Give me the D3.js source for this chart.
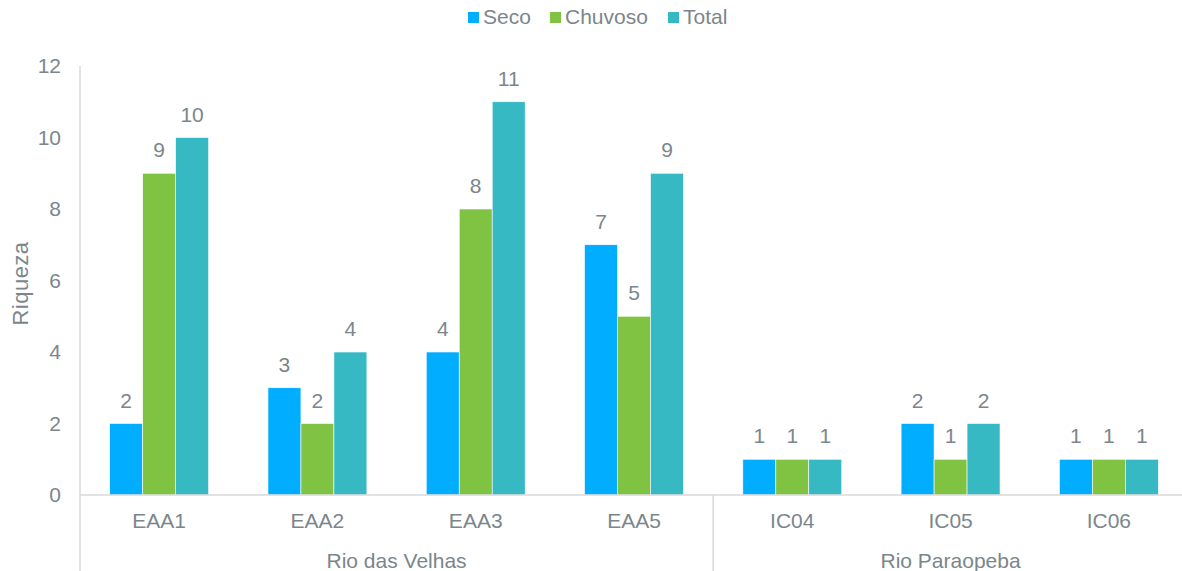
<!DOCTYPE html>
<html>
<head>
<meta charset="utf-8">
<script src="https://cdn.jsdelivr.net/npm/d3@7"></script>
<style>
  html, body { margin: 0; padding: 0; background: #fff; }
  svg text { font-family: "Liberation Sans", Arial, sans-serif; fill: #7b868c; }
</style>
</head>
<body>
<svg id="chart" width="1182" height="571"></svg>
<script>
// Sampling sites, grouped by river basin
const sites = ["EAA1", "EAA2", "EAA3", "EAA5", "IC04", "IC05", "IC06"];
const basins = ["Rio das Velhas", "Rio das Velhas", "Rio das Velhas", "Rio das Velhas",
                "Rio Paraopeba", "Rio Paraopeba", "Rio Paraopeba"];
const seriesNames = ["Seco", "Chuvoso", "Total"];
const seco    = [2, 3, 4, 7, 1, 2, 1];
const chuvoso = [9, 2, 8, 5, 1, 1, 1];
const total   = [10, 4, 11, 9, 1, 2, 1];
const yTicks  = [0, 2, 4, 6, 8, 10, 12];

const colors = { Seco: "#00adfe", Chuvoso: "#80c342", Total: "#37b9c4" };
const seriesValues = { Seco: seco, Chuvoso: chuvoso, Total: total };
const fontSize = "21px";
const textColor = "#7b868c";
const fontFamily = "'Liberation Sans', Arial, sans-serif";

const svg = d3.select("#chart");
const plotLeft = 80, plotRight = 1188, plotTop = 66, plotBottom = 495;

const x = d3.scaleBand().domain(sites).range([plotLeft, plotRight]).paddingInner(0).paddingOuter(0);
const groupWidth = x.bandwidth() * 0.625;
const inner = d3.scaleBand().domain(seriesNames).range([0, groupWidth]);
const groupOffset = (x.bandwidth() - groupWidth) / 2;
const y = d3.scaleLinear().domain([0, 12]).range([plotBottom, plotTop]);

// Y axis labels
const yAxis = d3.axisLeft(y).tickValues(yTicks).tickSize(0).tickPadding(19);
const gy = svg.append("g").attr("transform", `translate(${plotLeft},0)`).call(yAxis);
gy.select(".domain").remove();
gy.selectAll("text").style("font-size", fontSize).style("fill", textColor)
  .style("font-family", fontFamily);

// vertical axis line
svg.append("line").attr("x1", plotLeft).attr("x2", plotLeft).attr("y1", plotTop).attr("y2", 571)
  .attr("stroke", "#d9d9d9").attr("stroke-width", 1.5);

// Y axis title
svg.append("text").attr("transform", `translate(28,${(plotTop + plotBottom) / 2 + 3}) rotate(-90)`)
  .attr("text-anchor", "middle").style("font-size", "22px").style("letter-spacing", "0.5px")
  .text("Riqueza");

// Bars
const rows = [];
sites.forEach((s, i) => seriesNames.forEach(n => rows.push({ site: s, series: n, value: seriesValues[n][i] })));

svg.append("g").selectAll("rect").data(rows).join("rect")
  .attr("x", d => x(d.site) + groupOffset + inner(d.series))
  .attr("y", d => y(d.value))
  .attr("width", inner.bandwidth())
  .attr("height", d => y(0) - y(d.value))
  .attr("fill", d => colors[d.series])
  .attr("stroke", "#ffffff").attr("stroke-width", 0.6);

// Value labels
svg.append("g").selectAll("text").data(rows).join("text")
  .attr("x", d => x(d.site) + groupOffset + inner(d.series) + inner.bandwidth() / 2)
  .attr("y", d => y(d.value) - 16)
  .attr("text-anchor", "middle").style("font-size", fontSize)
  .text(d => d.value);

// Horizontal baseline
svg.append("line").attr("x1", plotLeft).attr("x2", plotRight).attr("y1", plotBottom).attr("y2", plotBottom)
  .attr("stroke", "#d9d9d9").attr("stroke-width", 1.5);

// Category labels
const xAxis = d3.axisBottom(x).tickSize(0).tickPadding(18);
const gx = svg.append("g").attr("transform", `translate(0,${plotBottom})`).call(xAxis);
gx.select(".domain").remove();
gx.selectAll("text").style("font-size", fontSize).style("fill", textColor)
  .style("font-family", fontFamily);

// Basin groups
const groups = d3.groups(sites.map((s, i) => ({ s, b: basins[i] })), d => d.b);
groups.forEach(([name, items], gi) => {
  const x0 = x(items[0].s);
  const x1 = x(items[items.length - 1].s) + x.bandwidth();
  svg.append("text").attr("x", (x0 + x1) / 2).attr("y", 568)
    .attr("text-anchor", "middle").style("font-size", fontSize).text(name);
  if (gi > 0) {
    svg.append("line").attr("x1", x0).attr("x2", x0).attr("y1", plotBottom).attr("y2", 571)
      .attr("stroke", "#d9d9d9").attr("stroke-width", 1.5);
  }
});

// Legend
const legendX = [468, 550, 668];
const legend = svg.append("g");
seriesNames.forEach((n, i) => {
  legend.append("rect").attr("x", legendX[i]).attr("y", 12).attr("width", 11).attr("height", 11)
    .attr("fill", colors[n]);
  legend.append("text").attr("x", legendX[i] + 15).attr("y", 24)
    .style("font-size", fontSize).text(n);
});
</script>
</body>
</html>
